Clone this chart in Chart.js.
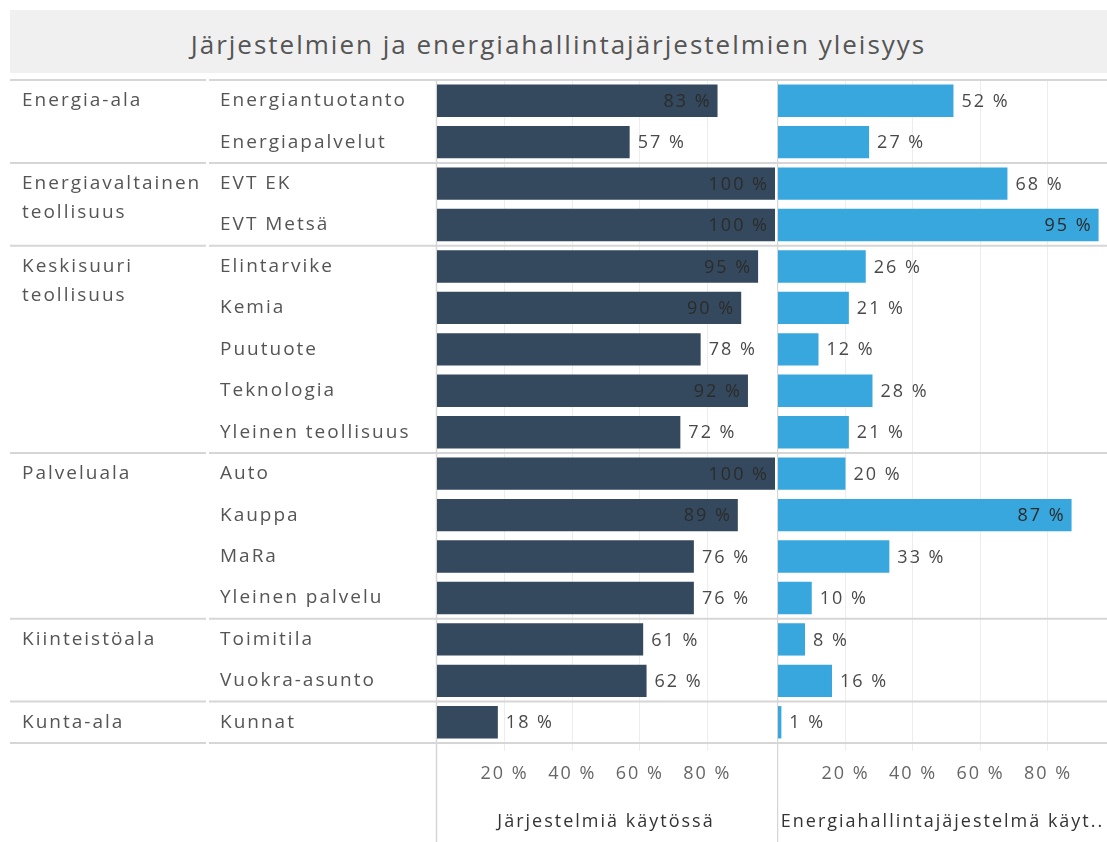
<!DOCTYPE html>
<html>
<head>
<meta charset="utf-8">
<script src="https://cdn.jsdelivr.net/npm/chart.js@4.4.1/dist/chart.umd.min.js"></script>
<style>
  html, body { margin: 0; padding: 0; background: #ffffff; }
  #wrap { position: relative; width: 1107px; height: 842px; overflow: hidden; }
  #title { position: absolute; left: 10px; top: 10px; width: 1097px; height: 63px; background: #f0f0f0;
           font-family: "Open Sans", sans-serif; font-size: 26px; letter-spacing: 2px; color: #555; text-align: center; line-height: 68px; }
  #c1wrap { position: absolute; left: 0; top: 78px; width: 777px; height: 764px; }
  #c2wrap { position: absolute; left: 777px; top: 78px; width: 330px; height: 764px; }
</style>
</head>
<body>
<div id="wrap">
  <div id="title">Järjestelmien ja energiahallintajärjestelmien yleisyys</div>
  <div id="c1wrap"><canvas id="c1" width="777" height="764"></canvas></div>
  <div id="c2wrap"><canvas id="c2" width="330" height="764"></canvas></div>
</div>
<script>
// ---- data ----
const groupNames = ["Energia-ala", "Energiavaltainen\nteollisuus", "Keskisuuri\nteollisuus", "Palveluala", "Kiinteistöala", "Kunta-ala"];
const groupSizes = [2, 2, 5, 4, 2, 1];
const categories = ["Energiantuotanto", "Energiapalvelut", "EVT EK", "EVT Metsä", "Elintarvike", "Kemia", "Puutuote",
  "Teknologia", "Yleinen teollisuus", "Auto", "Kauppa", "MaRa", "Yleinen palvelu", "Toimitila", "Vuokra-asunto", "Kunnat"];
const systemsInUse = [83, 57, 100, 100, 95, 90, 78, 92, 72, 100, 89, 76, 76, 61, 62, 18];
const energyMgmtInUse = [52, 27, 68, 95, 26, 21, 12, 28, 21, 20, 87, 33, 10, 8, 16, 1];
const tickValues = [20, 40, 60, 80];
const axisTitleLeft = "Järjestelmiä käytössä";
const axisTitleRight = "Energiahallintajäjestelmä käyt..";

const FONT = '"Open Sans", sans-serif';
const LINE = '#d6d6d6';
const GRID = '#ededed';
const SPACING = '2px';

const spacing = {
  id: 'spacing',
  beforeUpdate(chart) { chart.ctx.letterSpacing = SPACING; },
  beforeLayout(chart) { chart.ctx.letterSpacing = SPACING; },
  beforeDraw(chart) { chart.ctx.letterSpacing = SPACING; }
};

const valueLabels = {
  id: 'valueLabels',
  afterDatasetsDraw(chart) {
    const ctx = chart.ctx;
    const meta = chart.getDatasetMeta(0);
    const data = chart.data.datasets[0].data;
    const area = chart.chartArea;
    ctx.save();
    ctx.letterSpacing = SPACING;
    ctx.font = '18px ' + FONT;
    ctx.textBaseline = 'middle';
    meta.data.forEach((bar, i) => {
      const txt = data[i] + ' %';
      const w = ctx.measureText(txt).width;
      if (bar.x + 8 + w + 6 > area.right) {
        ctx.fillStyle = '#2b2b2b';
        ctx.textAlign = 'right';
        ctx.fillText(txt, bar.x - 6, bar.y + 1);
      } else {
        ctx.fillStyle = '#4a4a4a';
        ctx.textAlign = 'left';
        ctx.fillText(txt, bar.x + 8, bar.y + 1);
      }
    });
    ctx.restore();
  }
};

function boundaries(chart) {
  const y = chart.scales.y;
  const out = [];
  let idx = 0;
  groupSizes.forEach((n, g) => {
    const first = idx;
    idx += n;
    const top = first === 0 ? chart.chartArea.top : (y.getPixelForValue(first - 1) + y.getPixelForValue(first)) / 2;
    out.push({ g, first, top });
  });
  return out;
}

const tableLeft = {
  id: 'tableLeft',
  beforeDatasetsDraw(chart) {
    const ctx = chart.ctx;
    const area = chart.chartArea;
    ctx.save();
    ctx.strokeStyle = LINE;
    ctx.lineWidth = 2;
    const bs = boundaries(chart);
    const ys = bs.map(b => b.top).concat([area.bottom]);
    ys.forEach(yy => {
      ctx.beginPath(); ctx.moveTo(10, yy); ctx.lineTo(206, yy); ctx.stroke();
      ctx.beginPath(); ctx.moveTo(209, yy); ctx.lineTo(chart.width, yy); ctx.stroke();
    });
    ctx.lineWidth = 1.5;
    ctx.beginPath(); ctx.moveTo(area.left - 0.5, area.top); ctx.lineTo(area.left - 0.5, chart.height); ctx.stroke();
    ctx.restore();
  },
  afterDraw(chart) {
    const ctx = chart.ctx;
    const y = chart.scales.y;
    ctx.save();
    ctx.letterSpacing = SPACING;
    ctx.font = '19px ' + FONT;
    ctx.fillStyle = '#555555';
    ctx.textBaseline = 'middle';
    ctx.textAlign = 'left';
    categories.forEach((c, i) => ctx.fillText(c, 220, y.getPixelForValue(i)));
    boundaries(chart).forEach(b => {
      const lines = groupNames[b.g].split('\n');
      const y0 = y.getPixelForValue(b.first);
      lines.forEach((l, k) => ctx.fillText(l, 22, y0 + k * 29));
    });
    ctx.restore();
  }
};

const tableRight = {
  id: 'tableRight',
  beforeDatasetsDraw(chart) {
    const ctx = chart.ctx;
    const area = chart.chartArea;
    ctx.save();
    ctx.strokeStyle = LINE;
    ctx.lineWidth = 2;
    const ys = boundaries(chart).map(b => b.top).concat([area.bottom]);
    ys.forEach(yy => { ctx.beginPath(); ctx.moveTo(0, yy); ctx.lineTo(chart.width, yy); ctx.stroke(); });
    ctx.lineWidth = 1.5;
    ctx.beginPath(); ctx.moveTo(0.5, area.top); ctx.lineTo(0.5, chart.height); ctx.stroke();
    ctx.restore();
  }
};

function makeOptions(max, padLeft, padRight, title) {
  return {
    responsive: false,
    animation: false,
    indexAxis: 'y',
    layout: { padding: { left: padLeft, right: padRight, top: 2, bottom: 0 } },
    plugins: { legend: { display: false }, tooltip: { enabled: false } },
    scales: {
      y: { type: 'category', display: false, grid: { display: false } },
      x: {
        min: 0, max: max,
        afterBuildTicks: (s) => { s.ticks = tickValues.map(v => ({ value: v })); },
        afterFit: (s) => { s.height = 99; },
        grid: { color: GRID, lineWidth: 1, drawTicks: true, tickLength: 8, tickColor: GRID },
        border: { display: false },
        ticks: { padding: 12, color: '#666', font: { family: FONT, size: 18 }, callback: v => v + ' %', maxRotation: 0, autoSkip: false },
        title: { display: true, text: title, color: '#333', font: { family: FONT, size: 18 }, padding: { top: 0, bottom: 9 } }
      }
    }
  };
}

new Chart(document.getElementById('c1'), {
  type: 'bar',
  data: { labels: categories, datasets: [{ data: systemsInUse, backgroundColor: '#35495e', barPercentage: 0.78, categoryPercentage: 1 }] },
  options: makeOptions(100, 437, 2, axisTitleLeft),
  plugins: [spacing, tableLeft, valueLabels]
});

new Chart(document.getElementById('c2'), {
  type: 'bar',
  data: { labels: categories, datasets: [{ data: energyMgmtInUse, backgroundColor: '#38a7dd', barPercentage: 0.78, categoryPercentage: 1 }] },
  options: makeOptions(97.5, 1, 0, axisTitleRight),
  plugins: [spacing, tableRight, valueLabels]
});
</script>
</body>
</html>
